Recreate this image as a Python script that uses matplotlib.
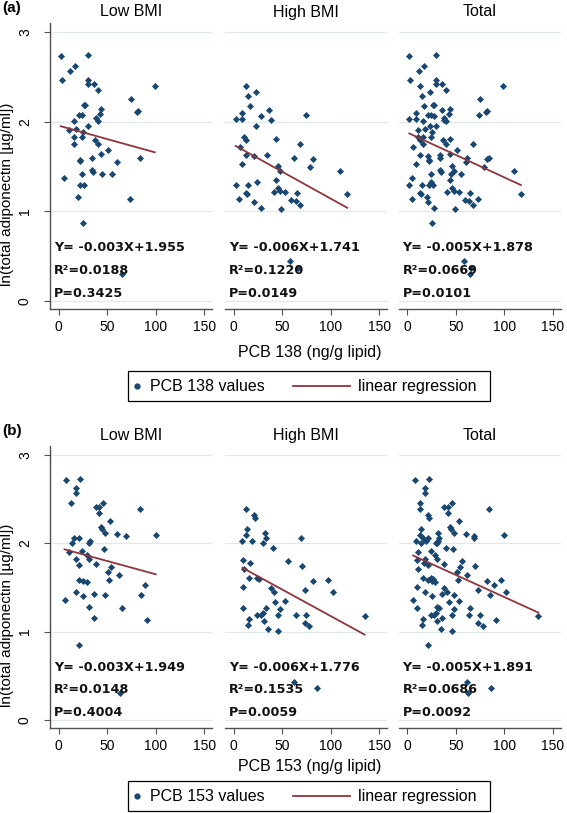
import matplotlib.pyplot as plt
from matplotlib.lines import Line2D
from matplotlib.patches import Rectangle
import numpy as np

plt.rcParams['font.family'] = ['Liberation Sans', 'DejaVu Sans']

# data
groups = ['Low BMI', 'High BMI', 'Total']

# (a) PCB 138
a_low_x = [2, 3, 12, 17, 30, 30, 30, 36, 40, 99, 75, 81, 82, 26, 27, 44, 43, 38, 40, 16,
           21, 24, 30, 11, 18, 16, 24, 25, 16, 37, 40, 44, 51, 34, 22, 22, 60, 84, 5, 24,
           34, 35, 45, 55, 22, 26, 20, 73, 25, 65]
a_low_y = [2.73, 2.46, 2.57, 2.62, 2.74, 2.46, 2.42, 2.42, 2.35, 2.40, 2.25, 2.11, 2.12, 2.18,
           2.18, 2.14, 2.09, 2.04, 2.01, 2.01, 2.07, 2.07, 1.95, 1.91, 1.92, 1.83, 1.83, 1.88,
           1.75, 1.79, 1.75, 1.64, 1.68, 1.59, 1.57, 1.56, 1.55, 1.59, 1.37, 1.42, 1.46, 1.44,
           1.42, 1.42, 1.29, 1.29, 1.16, 1.14, 0.87, 0.30]
a_high_x = [13, 15, 23, 17, 9, 36, 2, 9, 28, 38, 23, 74, 11, 13, 6, 44, 68, 13, 21, 34,
            9, 46, 48, 62, 82, 79, 110, 2, 15, 24, 44, 46, 48, 41, 53, 13, 14, 5, 21, 59,
            64, 65, 68, 28, 49, 117, 58, 66]
a_high_y = [2.40, 2.29, 2.33, 2.17, 2.10, 2.13, 2.03, 2.03, 2.06, 2.02, 1.95, 2.07, 1.83, 1.79,
            1.72, 1.81, 1.75, 1.63, 1.62, 1.63, 1.53, 1.50, 1.45, 1.59, 1.58, 1.49, 1.45, 1.29,
            1.29, 1.33, 1.35, 1.26, 1.23, 1.21, 1.21, 1.20, 1.19, 1.14, 1.10, 1.13, 1.11, 1.20,
            1.07, 1.04, 1.03, 1.19, 0.44, 0.37]
a_slope = [-0.003, -0.006, -0.005]
a_icpt = [1.955, 1.741, 1.878]
a_r2 = ['0.0188', '0.1220', '0.0669']
a_p = ['0.3425', '0.0149', '0.0101']

# (b) PCB 153
b_low_x = [8, 22, 18, 18, 13, 46, 38, 42, 42, 84, 53, 44, 45, 48, 60, 69, 100, 16, 21, 14,
           31, 32, 47, 11, 24, 29, 18, 31, 38, 21, 54, 51, 62, 52, 21, 25, 29, 89, 6, 18,
           25, 36, 48, 85, 31, 65, 36, 91, 21, 63]
b_low_y = [2.72, 2.73, 2.62, 2.57, 2.45, 2.46, 2.41, 2.41, 2.34, 2.39, 2.25, 2.18, 2.16, 2.12,
           2.11, 2.08, 2.09, 2.06, 2.06, 2.00, 2.00, 2.03, 1.94, 1.90, 1.91, 1.87, 1.82, 1.82,
           1.77, 1.75, 1.73, 1.67, 1.64, 1.58, 1.58, 1.57, 1.56, 1.53, 1.36, 1.45, 1.40, 1.43,
           1.42, 1.41, 1.28, 1.27, 1.15, 1.13, 0.85, 0.31]
b_high_x = [13, 21, 22, 14, 13, 9, 19, 32, 33, 30, 40, 69, 10, 17, 56, 70, 11, 16, 24, 26,
            10, 38, 41, 82, 97, 73, 102, 43, 53, 48, 33, 10, 24, 28, 30, 46, 64, 75, 16, 15,
            31, 35, 46, 73, 78, 135, 62, 86]
b_high_y = [2.39, 2.32, 2.29, 2.16, 2.09, 2.03, 2.02, 2.12, 2.06, 2.00, 1.95, 2.06, 1.81, 1.78,
            1.80, 1.74, 1.71, 1.61, 1.61, 1.60, 1.51, 1.49, 1.45, 1.57, 1.58, 1.47, 1.45, 1.33,
            1.35, 1.26, 1.27, 1.27, 1.19, 1.19, 1.21, 1.19, 1.19, 1.19, 1.14, 1.08, 1.12, 1.03,
            1.01, 1.10, 1.06, 1.18, 0.43, 0.36]
b_slope = [-0.003, -0.006, -0.005]
b_icpt = [1.949, 1.776, 1.891]
b_r2 = ['0.0148', '0.1535', '0.0686']
b_p = ['0.4004', '0.0059', '0.0092']

NAVY = '#1a476f'
MAROON = '#90353b'
GRID = '#dfe9ec'
AXCOL = '#505050'

W, H = 567, 813
fig = plt.figure(figsize=(W / 100, H / 100), dpi=100)


def fx(px):
    return px / W


def fy(py):
    return 1 - py / H


lefts = [50, 225, 398.6]
width = 162


def legend_box(pcb, yc):
    # hand-built legend so the dot sits close to its text like the original
    fig.add_artist(Rectangle((fx(128), fy(yc + 15)), 362 / W, 30 / H, transform=fig.transFigure,
                             facecolor='white', edgecolor='black', lw=0.9))
    fig.add_artist(Line2D([fx(137)], [fy(yc)], marker='o', ms=3.5, color=NAVY, ls='none',
                          transform=fig.transFigure))
    fig.text(fx(150), fy(yc), f'PCB {pcb} values', fontsize=11.5, va='center')
    fig.add_artist(Line2D([fx(293), fx(350)], [fy(yc), fy(yc)], color=MAROON, lw=1.3,
                          transform=fig.transFigure))
    fig.text(fx(358), fy(yc), 'linear regression', fontsize=11.5, va='center')


def panel(letter, top, bottom, lx, ly, hx, hy, slopes, icpts, r2s, ps, pcb, xlab_y, leg_y):
    sets = [(lx, ly), (hx, hy), (lx + hx, ly + hy)]
    for i, (xs, ys) in enumerate(sets):
        ax = fig.add_axes([fx(lefts[i]), fy(bottom), width / W, (bottom - top) / H])
        ax.set_xlim(-9, 158)
        ax.set_ylim(-0.09, 3.1)
        for g in [0, 1, 2, 3]:
            ax.axhline(g, color=GRID, lw=0.9, zorder=0)
        ax.scatter(xs, ys, marker='D', s=13, color=NAVY, linewidths=0, zorder=2)
        xx = np.array([min(xs), max(xs)])
        ax.plot(xx, icpts[i] + slopes[i] * xx, color=MAROON, lw=1.3, zorder=3)

        kw = dict(fontsize=9.2, fontweight='bold', family='DejaVu Sans', va='center',
                  color='#111111', zorder=4)
        ax.text(-5, 0.60, f'Y= {slopes[i]:.3f}X+{icpts[i]:.3f}', **kw)
        ax.text(-5, 0.34, 'R²=' + r2s[i], **kw)
        ax.text(-5, 0.08, 'P=' + ps[i], **kw)

        for s in ['top', 'right']:
            ax.spines[s].set_visible(False)
        ax.spines['bottom'].set_color(AXCOL)
        ax.spines['bottom'].set_linewidth(1.0)
        ax.set_xticks([0, 50, 100, 150])
        ax.tick_params(axis='x', length=4, width=0.8, color=AXCOL, pad=4, labelsize=10)
        for lab in ax.get_xticklabels():
            lab.set_family(['Liberation Sans Narrow', 'Liberation Sans'])
        if i == 0:
            ax.spines['left'].set_color(AXCOL)
            ax.spines['left'].set_linewidth(1.0)
            ax.set_yticks([0, 1, 2, 3])
            ax.tick_params(axis='y', length=4, width=0.8, color=AXCOL, pad=9, labelsize=10)
            for lab in ax.get_yticklabels():
                lab.set_rotation(90)
                lab.set_va('center')
                lab.set_family(['Liberation Sans Narrow', 'Liberation Sans'])
            ax.set_ylabel('ln(total adiponectin [µg/ml])', fontsize=11)
            ax.yaxis.set_label_coords(-0.22, 0.40)
        else:
            ax.spines['left'].set_visible(False)
            ax.set_yticks([])
        fig.text(fx(lefts[i] + width / 2), fy(top - 11), groups[i], ha='center',
                 va='center', fontsize=11.5)

    fig.text(fx(2), fy(top - 15), letter, fontsize=11, fontweight='bold', va='center')
    fig.text(fx(310), fy(xlab_y), f'PCB {pcb} (ng/g lipid)', ha='center',
             va='center', fontsize=11.5)
    legend_box(pcb, leg_y)


panel('(a)', 23, 309, a_low_x, a_low_y, a_high_x, a_high_y, a_slope, a_icpt, a_r2, a_p, 138,
      352, 386.5)
panel('(b)', 446, 728, b_low_x, b_low_y, b_high_x, b_high_y, b_slope, b_icpt, b_r2, b_p, 153,
      766, 796)

plt.savefig('out.png', dpi=100)
